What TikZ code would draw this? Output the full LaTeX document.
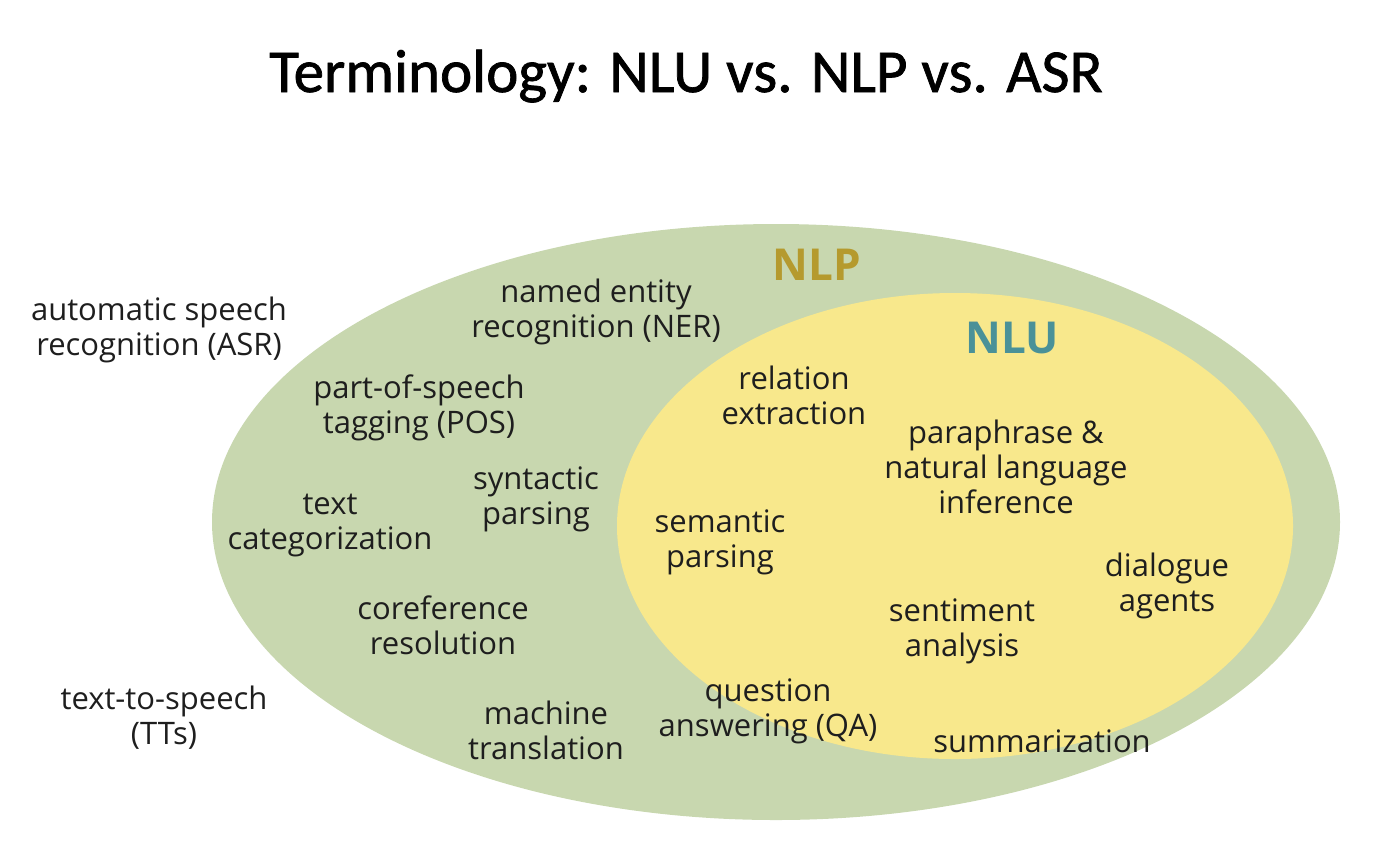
\documentclass[tikz,border=0pt]{standalone}
\usepackage{fontspec}
\setmainfont{Open Sans}
\newfontfamily\titlefont[FakeBold=1.2]{Carlito}
\definecolor{nlpgreen}{HTML}{C8D7AF}
\definecolor{nluyellow}{HTML}{F8E88C}
\definecolor{nlpgold}{HTML}{B59A2E}
\definecolor{nluteal}{HTML}{4A9198}
\definecolor{txt}{HTML}{1E1E1E}
\tikzset{
  lbl/.style={align=center, text=txt, inner sep=0pt, font=\fontsize{15.5}{17.5}\selectfont},
  setname/.style={inner sep=0pt, anchor=base, font=\fontsize{22}{26}\selectfont\bfseries},
}
\begin{document}
\begin{tikzpicture}[x=0.5pt,y=-0.5pt]
\useasboundingbox (0,0) rectangle (1392,864);
% sets
\fill[nlpgreen] (776,522) ellipse [x radius=282pt, y radius=149pt];
\fill[nluyellow] (955,526) ellipse [x radius=169pt, y radius=116.5pt];
% title
\node[inner sep=0pt, anchor=base, font=\titlefont\fontsize{30.5}{36}\selectfont] (title) at (686,92) {Terminology: NLU vs. NLP vs. ASR};
% set labels
\node[setname, text=nlpgold] (nlp) at (817,280) {NLP};
\node[setname, text=nluteal] (nlu) at (1012,353) {NLU};
% outside
\node[lbl] (asr) at (159,330) {automatic speech\\recognition (ASR)};
\node[lbl] (tts) at (164,718) {text-to-speech\\(TTs)};
% NLP only
\node[lbl] (ner) at (596,312) {named entity\\recognition (NER)};
\node[lbl] (pos) at (419,408) {part-of-speech\\tagging (POS)};
\node[lbl] (syn) at (536,499) {syntactic\\parsing};
\node[lbl] (cat) at (330,525) {text\\categorization};
\node[lbl] (coref) at (443,625) {coreference\\resolution};
\node[lbl] (mt) at (546,730) {machine\\translation};
% NLU
\node[lbl] (rel) at (794,395) {relation\\extraction};
\node[lbl] (para) at (1006,467) {paraphrase \&\\natural language\\inference};
\node[lbl] (sem) at (720,542) {semantic\\parsing};
\node[lbl] (dia) at (1167,586) {dialogue\\agents};
\node[lbl] (sent) at (962,631) {sentiment\\analysis};
\node[lbl] (qa) at (768,711) {question\\answering (QA)};
\node[lbl] (summ) at (1042,741) {summarization};
\end{tikzpicture}
\end{document}
